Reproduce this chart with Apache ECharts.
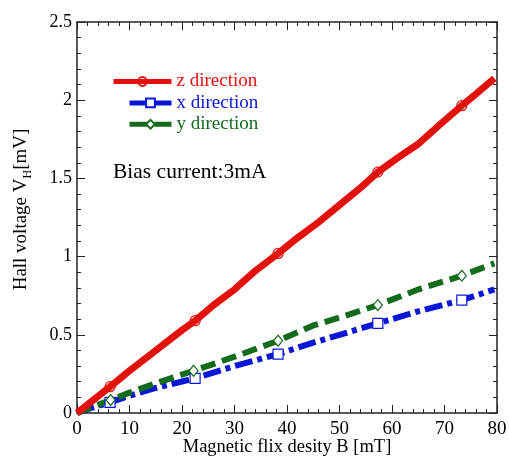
<!DOCTYPE html>
<html><head><meta charset="utf-8">
<script src="https://cdn.jsdelivr.net/npm/echarts@6/dist/echarts.min.js"></script>
<style>html,body{margin:0;padding:0;background:#fff}#c{width:509px;height:459px}</style>
</head><body><div id="c"></div>
<script>
// z direction
var zB = [0, 3, 6.3, 10, 15, 20, 22.5, 26, 30, 34, 38.3, 42, 46, 50, 54, 57.3, 61, 65, 69, 73.3, 76, 79.5];
var zV = [0, 0.08, 0.168, 0.27, 0.40, 0.53, 0.59, 0.69, 0.79, 0.91, 1.02, 1.12, 1.22, 1.33, 1.44, 1.54, 1.63, 1.72, 1.84, 1.965, 2.04, 2.14];
var zMarks = [6.3, 22.5, 38.3, 57.3, 73.3];
// x direction
var xB = [0, 3, 6.3, 10, 15, 22.5, 30, 38.3, 45, 50, 57.3, 65, 73.3, 79.5];
var xV = [0, 0.035, 0.068, 0.11, 0.16, 0.222, 0.30, 0.377, 0.45, 0.50, 0.573, 0.65, 0.722, 0.79];
var xMarks = [6.3, 22.5, 38.3, 57.3, 73.3];
// y direction
var yB = [0, 3, 6.4, 10, 15, 22.2, 30, 38.3, 45, 50, 57.3, 65, 73.3, 79.5];
var yV = [0, 0.04, 0.083, 0.13, 0.19, 0.27, 0.36, 0.462, 0.56, 0.61, 0.69, 0.79, 0.878, 0.957];
var yMarks = [6.4, 22.2, 38.3, 57.3, 73.3];

var names = ['z direction', 'x direction', 'y direction'];
var colors = ['#e3110c', '#0a16d6', '#136b1c'];
var symbols = ['circle', 'rect', 'diamond'];
var fills = ['rgba(255,255,255,0)', '#ffffff', '#ffffff'];
var dashes = ['solid', [18, 5, 5, 5], [15, 7]];
var widths = [7, 6, 6];

function mk(B, V, marks) {
  return B.map(function (b, i) {
    var d = { value: [b, V[i]] };
    if (marks.indexOf(b) < 0) d.symbol = 'none';
    return d;
  });
}

var font = 'Liberation Serif';
var chart = echarts.init(document.getElementById('c'), null, { renderer: 'canvas' });

function axisBase(extra) {
  var a = {
    type: 'value',
    nameMoveOverlap: false,
    axisLine: { show: true, onZero: false, lineStyle: { color: '#222', width: 1.5 } },
    axisTick: { show: true, inside: true, length: 8, lineStyle: { color: '#222', width: 1 } },
    minorTick: { show: true, splitNumber: 5, length: 4, lineStyle: { color: '#222', width: 1 } },
    splitLine: { show: false },
    axisLabel: { color: '#000', fontFamily: font, fontSize: 18 }
  };
  for (var k in extra) a[k] = extra[k];
  return a;
}

var option = {
  backgroundColor: '#fff',
  animation: false,
  grid: { left: 77, right: 12, top: 22, bottom: 46, containLabel: false, outerBoundsMode: 'none' },
  xAxis: [
    axisBase({ min: 0, max: 80, interval: 10, position: 'bottom',
      name: 'Magnetic flix desity B [mT]', nameLocation: 'middle', nameGap: 24.5,
      nameTextStyle: { color: '#000', fontFamily: font, fontSize: 18.5 },
      axisLabel: { color: '#000', fontFamily: font, fontSize: 19, margin: 7 } }),
    axisBase({ min: 0, max: 80, interval: 10, position: 'top', axisLabel: { show: false } })
  ],
  yAxis: [
    axisBase({ min: 0, max: 2.5, interval: 0.5, position: 'left',
      name: 'Hall voltage V{sub|H}[mV]', nameLocation: 'middle', nameGap: 43, nameRotate: 90,
      nameTextStyle: { color: '#000', fontFamily: font, fontSize: 19, lineHeight: 26, padding: [0, 0, 0, 16],
        rich: { sub: { fontFamily: font, fontSize: 12, lineHeight: 12, verticalAlign: 'bottom', color: '#000' } } },
      axisLabel: { color: '#000', fontFamily: font, fontSize: 18, margin: 5 } }),
    axisBase({ min: 0, max: 2.5, interval: 0.5, position: 'right', axisLabel: { show: false } })
  ],
  legend: [0, 1, 2].map(function (i) {
    var w = i === 0 ? 58 : 42;
    return {
      data: [names[i]],
      left: 174 - 5 - w,
      top: 72 + i * 21.4,
      itemWidth: w,
      itemHeight: 11,
      itemGap: 5,
      lineStyle: { width: 5, type: i === 2 ? [18, 7] : 'solid', color: colors[i] },
      textStyle: { color: colors[i], fontFamily: font, fontSize: 19 },
      padding: 0
    };
  }),
  graphic: [{
    type: 'text', left: 113, top: 161,
    style: { text: 'Bias current:3mA', fontFamily: font, fontSize: 21.5, fill: '#000' }
  }],
  series: [0, 1, 2].map(function (i) {
    var src = [[zB, zV, zMarks], [xB, xV, xMarks], [yB, yV, yMarks]][i];
    return {
      name: names[i], type: 'line', data: mk(src[0], src[1], src[2]),
      symbol: symbols[i], symbolSize: i === 2 ? [9, 11] : 10,
      color: colors[i],
      lineStyle: { width: widths[i], color: colors[i], type: dashes[i] },
      itemStyle: { color: fills[i], borderColor: colors[i], borderWidth: 1.2 },
      z: i === 0 ? 3 : 2
    };
  })
};
chart.setOption(option);
</script>
</body></html>
